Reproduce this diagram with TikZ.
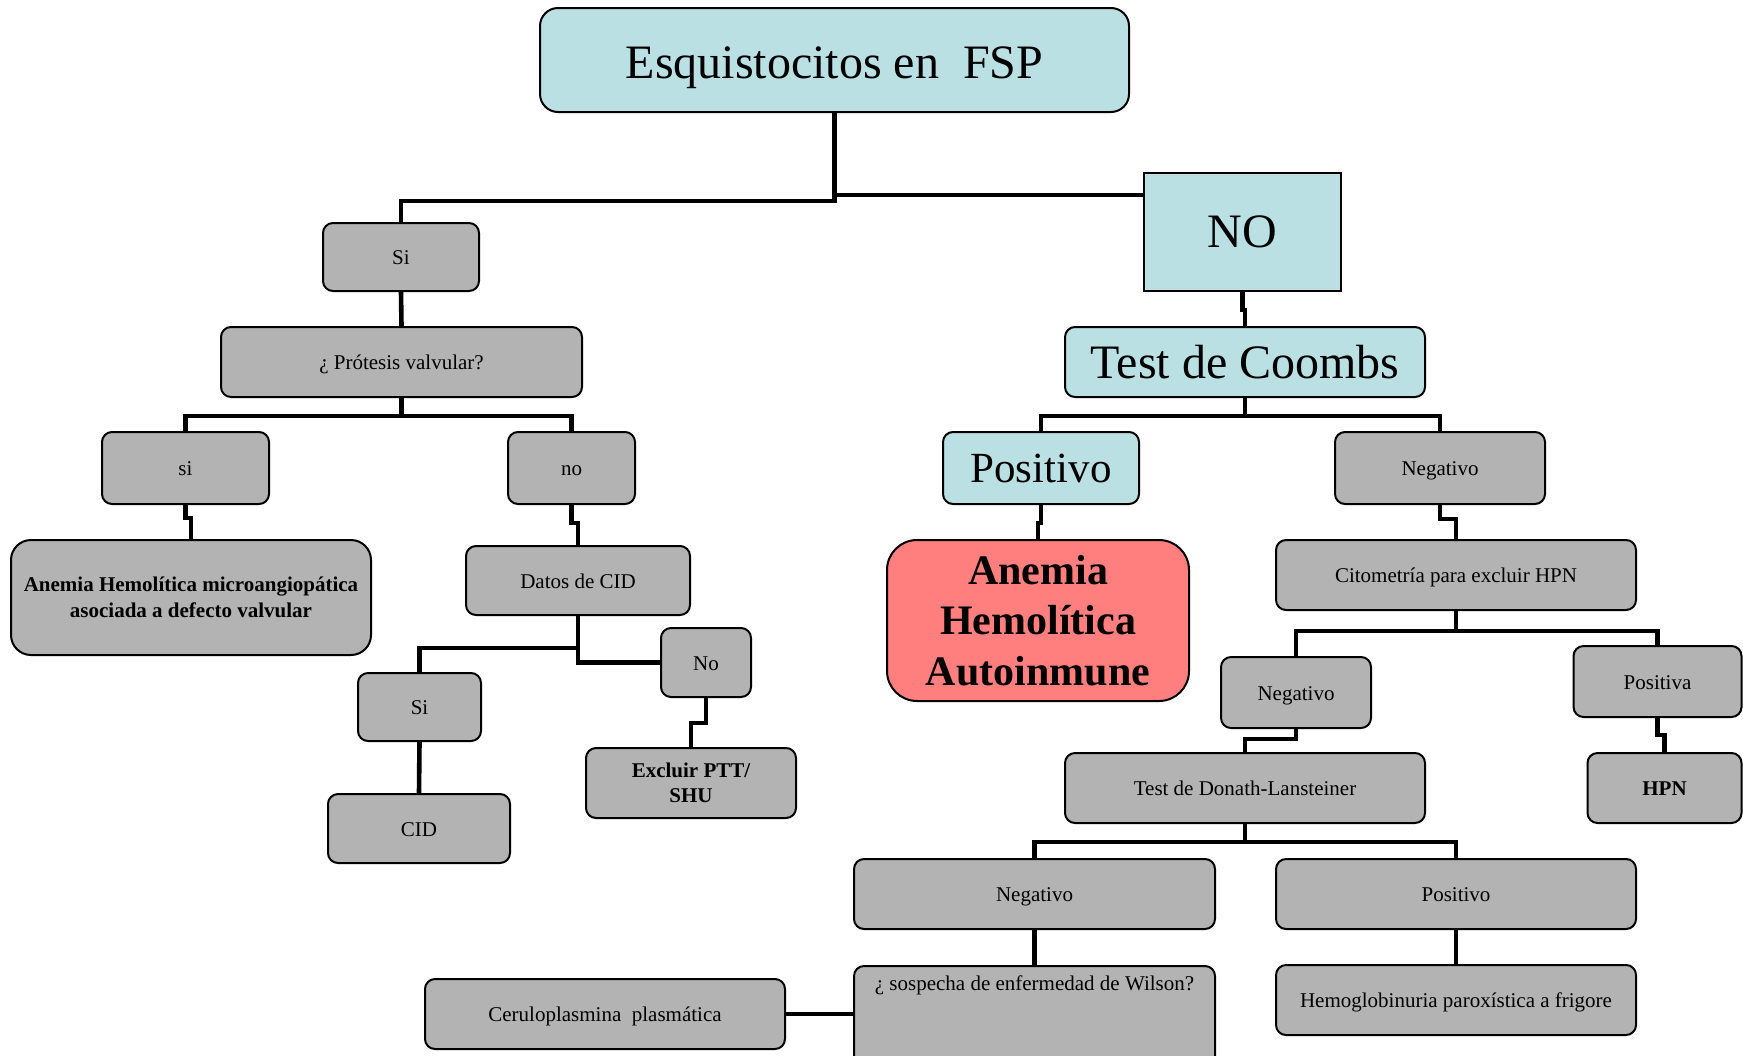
\documentclass[tikz,border=0pt]{standalone}
\usepackage{fontspec}
\setmainfont{Liberation Serif}
\usepackage{xcolor}
\usetikzlibrary{positioning}

\definecolor{boxblue}{HTML}{BAE0E3}
\definecolor{boxgray}{HTML}{B3B3B3}
\definecolor{boxred}{HTML}{FF7E7E}

\begin{document}
\begin{tikzpicture}[
  x=0.5pt, y=-0.5pt,
  every node/.style={font=\fontsize{10.5}{12.8}\selectfont},
  gbox/.style={
    rectangle, rounded corners=5pt,
    draw=black, line width=1pt,
    fill=boxgray,
    inner sep=3pt,
    align=center,
  },
  sbox/.style={gbox, text height=9pt, text depth=1.5pt},
  bbox/.style={gbox, fill=boxblue, font=\fontsize{24}{28}\selectfont},
  rbox/.style={gbox, fill=boxred, rounded corners=15pt,
    font=\fontsize{21}{25.3}\selectfont\bfseries},
  link/.style={draw=black, line width=2.3pt},
]
  \useasboundingbox (0,0) rectangle (1743,1055);

  \node[bbox, rounded corners=9pt, minimum width=294.5pt, minimum height=52pt, text height=23pt, text depth=5pt] (root) at (834.5,60) {Esquistocitos en~~FSP};

  % rama Si
  \node[sbox, minimum width=78pt, minimum height=34pt] (si1) at (401,257) {Si};
  \node[sbox, minimum width=180.5pt, minimum height=35pt] (prot) at (401.5,362) {¿ Prótesis valvular?};
  \node[sbox, minimum width=83.5pt, minimum height=36pt] (si2) at (185.5,468) {si};
  \node[sbox, minimum width=63.5pt, minimum height=36pt] (no1) at (571.5,468) {no};
  \node[gbox, rounded corners=10pt, minimum width=180pt, minimum height=57.5pt, font=\fontsize{10.5}{12.8}\selectfont\bfseries] (ahm) at (191,597.5) {Anemia Hemolítica microangiopática\\asociada a defecto valvular};
  \node[sbox, minimum width=112pt, minimum height=34.5pt] (cid) at (578,580.5) {Datos de CID};
  \node[sbox, minimum width=61.5pt, minimum height=34pt] (si3) at (419.5,707) {Si};
  \node[sbox, minimum width=45pt, minimum height=34.5pt] (no2) at (706,662.5) {No};
  \node[sbox, minimum width=91pt, minimum height=34.5pt] (cidx) at (419,828.5) {CID};
  \node[gbox, minimum width=105pt, minimum height=35pt, font=\fontsize{10.5}{12.8}\selectfont\bfseries] (ptt) at (691,783) {Excluir PTT/\\SHU};

  % rama NO
  \node[bbox, rounded corners=0pt, minimum width=98.5pt, minimum height=59pt] (no) at (1242.5,232) {NO};
  \node[bbox, minimum width=180pt, minimum height=35pt] (coombs) at (1245,362) {Test de Coombs};
  \node[bbox, minimum width=98pt, minimum height=36pt, font=\fontsize{21.5}{25}\selectfont] (pos1) at (1041,468) {Positivo};
  \node[sbox, minimum width=105pt, minimum height=36pt] (neg1) at (1440,468) {Negativo};
  \node[rbox, minimum width=151pt, minimum height=80.5pt] (aha) at (1038,620.5) {Anemia\\Hemolítica\\Autoinmune};
  \node[sbox, minimum width=180pt, minimum height=35pt] (cito) at (1456,575) {Citometría para excluir HPN};
  \node[sbox, minimum width=75pt, minimum height=35.5pt] (neg2) at (1296,692.5) {Negativo};
  \node[sbox, minimum width=84pt, minimum height=35.5pt] (posa) at (1657.5,681.5) {Positiva};
  \node[sbox, minimum width=77pt, minimum height=35pt, font=\fontsize{10.5}{12.8}\selectfont\bfseries] (hpn) at (1664.5,788) {HPN};
  \node[sbox, minimum width=180pt, minimum height=35pt] (dl) at (1245,788) {Test de Donath-Lansteiner};
  \node[sbox, minimum width=180.5pt, minimum height=35pt] (neg3) at (1034.5,894) {Negativo};
  \node[sbox, minimum width=180pt, minimum height=35pt] (pos3) at (1456,894) {Positivo};
  \node[gbox, anchor=north, minimum width=180.5pt, text height=9pt, text depth=40pt] (wil) at (1034.5,965) {¿ sospecha de enfermedad de Wilson?};
  \node[sbox, minimum width=180pt, minimum height=35pt] (hem) at (1456,1000) {Hemoglobinuria paroxística a frigore};
  \node[sbox, minimum width=180pt, minimum height=35pt] (cer) at (605,1014) {Ceruloplasmina~~plasmática};

  \draw[link] (root.south) -- ++(0,88) -| (si1.north);
  \draw[link] (root.south) |- ([yshift=-11.5pt]no.north west);
  \draw[link] (si1.south) -- (prot.north);
  \draw[link] (prot.south) -- ++(0,18) -| (si2.north);
  \draw[link] (prot.south) -- ++(0,18) -| (no1.north);
  \draw[link] (si2.south) -- ++(0,13) -| (ahm.north);
  \draw[link] (no1.south) -- ++(0,18) -| (cid.north);
  \draw[link] (cid.south) -- ++(0,32) -| (si3.north);
  \draw[link] (cid.south) |- (no2.west);
  \draw[link] (si3.south) -- (cidx.north);
  \draw[link] (no2.south) -- ++(0,25) -| (ptt.north);

  \draw[link] (no.south) -- ++(0,18) -| (coombs.north);
  \draw[link] (coombs.south) -- ++(0,18) -| (pos1.north);
  \draw[link] (coombs.south) -- ++(0,18) -| (neg1.north);
  \draw[link] (pos1.south) -- ++(0,18) -| (aha.north);
  \draw[link] (neg1.south) -- ++(0,14) -| (cito.north);
  \draw[link] (cito.south) -- ++(0,20) -| (neg2.north);
  \draw[link] (cito.south) -- ++(0,20) -| (posa.north);
  \draw[link] (neg2.south) -- ++(0,10) -| (dl.north);
  \draw[link] (posa.south) -- ++(0,17) -| (hpn.north);
  \draw[link] (dl.south) -- ++(0,18) -| (neg3.north);
  \draw[link] (dl.south) -- ++(0,18) -| (pos3.north);
  \draw[link] (neg3.south) -- (wil.north);
  \draw[link] (pos3.south) -- (hem.north);
  \draw[link] (cer.east) -- (cer.east -| wil.west);
\end{tikzpicture}
\end{document}
